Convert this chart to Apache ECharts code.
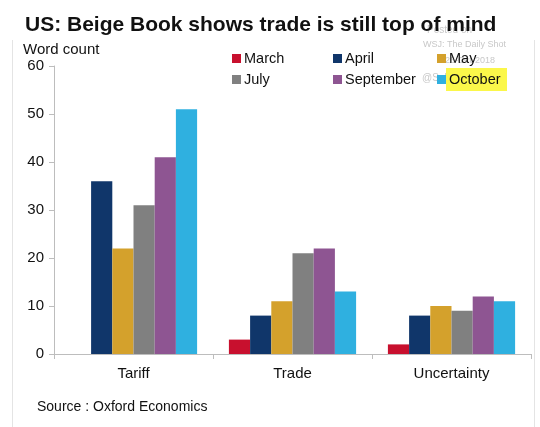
<!DOCTYPE html>
<html>
<head>
<meta charset="utf-8">
<script src="https://cdn.jsdelivr.net/npm/echarts@6/dist/echarts.min.js"></script>
<style>
  html, body { margin: 0; padding: 0; background: #fff; }
  #chart { width: 540px; height: 427px; }
</style>
</head>
<body>
<div id="chart"></div>
<script>
// categories and word counts per Beige Book release
var categories = ["Tariff", "Trade", "Uncertainty"];
var march = [0, 3, 2];
var april = [36, 8, 8];
var may = [22, 11, 10];
var july = [31, 21, 9];
var september = [41, 22, 12];
var october = [51, 13, 11];
var seriesNames = ["March", "April", "May", "July", "September", "October"];
var seriesColors = ["#c8102e", "#10366a", "#d4a12c", "#808080", "#8e5592", "#2fb0e0"];
var seriesData = [march, april, may, july, september, october];

var font = "Liberation Sans, Arial, sans-serif";
var chart = echarts.init(document.getElementById("chart"));

// legend positions (two rows of three)
var legendPos = [
    [232, 51], [333, 51], [437, 51],
    [232, 72], [333, 72], [437, 72]
];

var legends = seriesNames.map(function (name, i) {
    return {
        data: [name],
        left: legendPos[i][0],
        top: legendPos[i][1],
        icon: "rect",
        itemWidth: 9,
        itemHeight: 9,
        itemGap: 0,
        padding: 0,
        selectedMode: false,
        textStyle: { fontFamily: font, fontSize: 14.5, color: "#111", padding: [0, 0, 0, -2] }
    };
});

chart.setOption({
    animation: false,
    title: {
        text: "US: Beige Book shows trade is still top of mind",
        left: 20,
        top: 10,
        textStyle: { fontFamily: font, fontSize: 21, fontWeight: "bold", color: "#111" }
    },
    graphic: [
        { type: "rect", shape: { x: 446, y: 68, width: 61, height: 23 }, style: { fill: "#fbf74a" }, z: -1 },
        { type: "text", left: 427, top: 25, z: -2, style: { text: "Posted on", fill: "#c8c8c8", font: "10px " + font } },
        { type: "text", left: 423, top: 40, style: { text: "WSJ: The Daily Shot", fill: "#c8c8c8", font: "9px " + font } },
        { type: "text", left: 445, top: 56, style: { text: "26-Oct-2018", fill: "#c8c8c8", font: "9px " + font } },
        { type: "text", left: 422, top: 73, z: -2, style: { text: "@SoberLook", fill: "#c8c8c8", font: "10px " + font } },
        { type: "text", left: 23, top: 42, style: { text: "Word count", fill: "#111", font: "15px " + font } },
        { type: "text", left: 37, top: 400, style: { text: "Source : Oxford Economics", fill: "#111", font: "14px " + font } },
        { type: "line", shape: { x1: 12.5, y1: 40, x2: 12.5, y2: 427 }, style: { stroke: "#e4e4e4", lineWidth: 1 } },
        { type: "line", shape: { x1: 534.5, y1: 40, x2: 534.5, y2: 427 }, style: { stroke: "#e4e4e4", lineWidth: 1 } }
    ],
    legend: legends,
    grid: { left: 54, right: 9, top: 66, bottom: 73 },
    xAxis: {
        type: "category",
        data: categories,
        axisLine: { lineStyle: { color: "#bdbdbd", width: 1 } },
        axisTick: { show: true, length: 5, lineStyle: { color: "#bdbdbd" } },
        axisLabel: { fontFamily: font, fontSize: 15, color: "#111", margin: 12 }
    },
    yAxis: {
        type: "value",
        min: 0,
        max: 60,
        interval: 10,
        splitLine: { show: false },
        axisLine: { show: true, lineStyle: { color: "#bdbdbd", width: 1 } },
        axisTick: { show: true, length: 5, lineStyle: { color: "#bdbdbd" } },
        axisLabel: { fontFamily: font, fontSize: 15, color: "#111", margin: 10 }
    },
    series: seriesNames.map(function (name, i) {
        return {
            name: name,
            type: "bar",
            data: seriesData[i],
            barGap: "0%",
            barCategoryGap: "20%",
            itemStyle: { color: seriesColors[i] }
        };
    })
});
</script>
</body>
</html>
